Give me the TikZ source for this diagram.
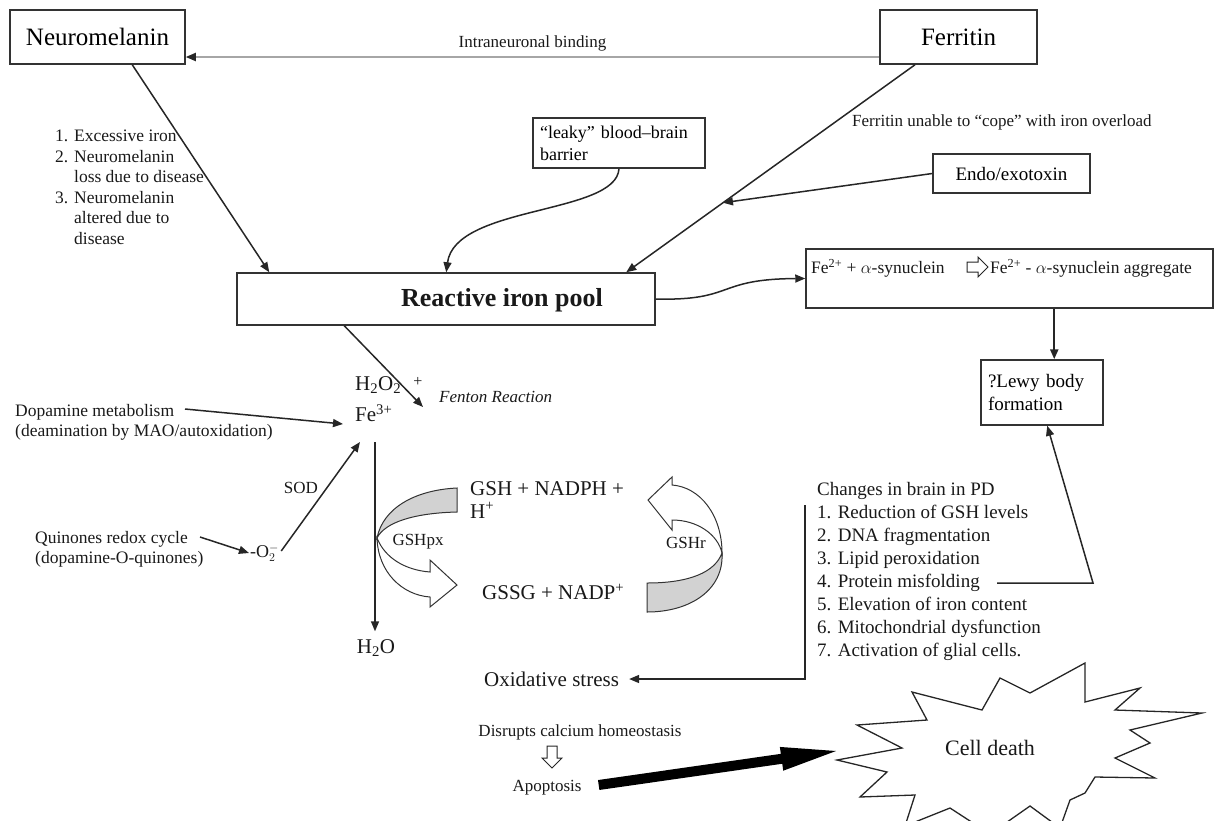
\documentclass[tikz,border=0pt]{standalone}
\usepackage{fontspec}
\setmainfont{Liberation Serif}
\usetikzlibrary{arrows.meta,calc}
\newcommand\fsz[2]{\fontsize{#1}{#2}\selectfont}
\begin{document}
\begin{tikzpicture}[x=1pt,y=-1pt,
 box/.style={draw=black!80, line width=1.5pt, inner sep=0pt},
 conn/.style={draw=black!85, line width=1.5pt, -{Triangle[length=10pt,width=8pt]}},
 txt/.style={inner sep=1pt, text=black!90},
 hollowp/.style={draw=black!85, line width=1pt, fill=white, line join=miter},
 band/.style={draw=black!80, line width=1pt}
]
\useasboundingbox (0,0) rectangle (1217,820);

% top boxes
\node[box,minimum width=175pt,minimum height=54pt,font=\fsz{25}{30}] (neuro) at (97.5,37) {Neuromelanin};
\node[box,minimum width=157pt,minimum height=54pt,font=\fsz{25}{30}] (ferr) at (958.5,37) {Ferritin};
\draw[draw=gray!70,line width=1.8pt,-{Triangle[length=10pt,width=8pt,color=black!85]}] ($(ferr.west)+(0,20)$) -- ($(neuro.east)+(0,20)$)
  node[midway,above=4pt,txt,font=\fsz{17}{20}] (intra) {Intraneuronal binding};

% reactive iron pool
\node[box,minimum width=418pt,minimum height=52pt] (pool) at (446,299) {};
\node[txt,font=\fsz{26}{30}\bfseries] (pooltxt) at (502,300) {Reactive iron pool};

% leaky bbb
\node[box,minimum width=172pt,minimum height=50pt,text width=158pt,align=left,font=\fsz{18}{22}] (leaky) at (619,143) {“leaky” blood–brain\\barrier};

% endo
\node[box,minimum width=157pt,minimum height=39pt,font=\fsz{19}{22}] (endo) at (1011.5,173.5) {Endo/exotoxin};

% causes list
\node[txt,anchor=north west,align=left,font=\fsz{17.5}{20.5}] (causes) at (54,129) {1. Excessive iron\\2. Neuromelanin\\\phantom{2. }loss due to disease\\3. Neuromelanin\\\phantom{3. }altered due to\\\phantom{3. }disease};

\node[txt,anchor=west,font=\fsz{17}{20}] (ferlab) at (851,122) {Ferritin unable to “cope” with iron overload};

% arrows into pool
\draw[conn] ($(neuro.south west)+(123,0)$) -- ($(pool.north west)+(33,0)$);
\draw[conn] (leaky.south) .. controls (616,215) and (455,205) .. ($(pool.north west)+(210,0)$);
\coordinate (fs) at ($(ferr.south)+(-43.5,0)$);
\coordinate (pe) at ($(pool.north west)+(390,0)$);
\draw[conn] (fs) -- (pe);
\draw[conn] (endo.west) -- ($(fs)!0.665!(pe)$);

% Fe2+ box
\node[box,minimum width=407pt,minimum height=59pt] (febox) at (1009.5,278.5) {};
\node[txt,anchor=west,font=\fsz{17.5}{20}] (fe1) at (810,268) {Fe\textsuperscript{2+} + $\alpha$-synuclein};
\draw[hollowp,shift={(967,267)}] (0,-5) -- (11,-5) -- (11,-10) -- (21,0) -- (11,10) -- (11,5) -- (0,5) -- cycle;
\node[txt,anchor=west,font=\fsz{17.5}{20}] (fe2) at (989,268) {Fe\textsuperscript{2+} - $\alpha$-synuclein aggregate};
\draw[conn] (pool.east) .. controls (735,301) and (715,279) .. (febox.west);

% Lewy
\node[box,minimum width=122pt,minimum height=65pt,text width=108pt,align=left,font=\fsz{19}{23}] (lewy) at (1042,392.5) {?Lewy body\\formation};
\draw[conn,line width=2.2pt] ($(febox.south west)+(249,0)$) -- ($(lewy.north west)+(74,0)$);

% Fenton
\node[txt,anchor=west,font=\fsz{21}{24}] (h2o2) at (354,385) {H\textsubscript{2}O\textsubscript{2}};
\node[txt,font=\fsz{16}{18}] (plus) at (418,382) {+};
\node[txt,anchor=west,font=\fsz{21}{24}] (fe3) at (354,413) {Fe\textsuperscript{3+}};
\node[txt,anchor=west,font=\fsz{17}{20}\itshape] (fenton) at (438,397) {Fenton Reaction};
\draw[conn] ($(pool.south west)+(108,0)$) -- ($(fenton.west)+(-15,10)$);

% dopamine
\node[txt,anchor=north west,align=left,font=\fsz{17.5}{20}] (dop) at (14,403) {Dopamine metabolism\\(deamination by MAO/autoxidation)};
\draw[conn] ($(dop.north west)+(171,6)$) -- ($(fe3.west)+(-11,11)$);

% quinones
\node[txt,anchor=west,font=\fsz{18}{20}] (o2) at (249,553) {-O$_2^{-}$};
\node[txt,anchor=north west,align=left,font=\fsz{17.5}{20}] (quin) at (34,530) {Quinones redox cycle\\(dopamine-O-quinones)};
\draw[conn] ($(quin.north west)+(166,7)$) -- (o2.west);
\draw[conn] ($(o2.east)+(1,-2)$) -- ($(fe3.west)+(6,29)$);
\node[txt,font=\fsz{17}{20}] (sod) at (301,488) {SOD};

% H2O
\node[txt,font=\fsz{21}{24}] (h2o) at (376,648) {H\textsubscript{2}O};
\draw[conn] ($(fe3.west)+(21,29)$) -- ($(h2o.north)+(-1,-7)$);

% left ribbon (GSHpx)
\filldraw[band,fill=gray!35] (457,488) .. controls (415,490) and (383,508) .. (377,538) .. controls (385,522) and (415,513) .. (457,512) -- cycle;
\filldraw[band,fill=white] (377,538) .. controls (378,572) and (402,595) .. (430,597) -- (430,607) -- (457,585) -- (430,560) -- (430,572) .. controls (405,570) and (385,558) .. (377,538) -- cycle;

% right ribbon (GSHr)
\filldraw[band,fill=white] (722,553) .. controls (722,515) and (700,487) .. (672,485) -- (672,477) -- (648,500) -- (672,530) -- (672,520) .. controls (698,520) and (718,535) .. (722,553) -- cycle;
\filldraw[band,fill=gray!35] (722,553) .. controls (715,572) and (690,583) .. (647,583) -- (647,612) .. controls (690,612) and (724,590) .. (722,553) -- cycle;

\node[txt,anchor=north west,align=left,font=\fsz{21}{23}] (gsh) at (469,480) {GSH + NADPH +\\H\textsuperscript{+}};
\node[txt,anchor=west,font=\fsz{21}{24}] (gssg) at (481,592) {GSSG + NADP\textsuperscript{+}};
\node[txt,font=\fsz{17}{20}] (gpx) at (418,542) {GSHpx};
\node[txt,font=\fsz{17}{20}] (gr) at (686,543) {GSHr};

% changes list
\node[txt,anchor=north west,align=left,font=\fsz{19}{23}] (chg) at (816,481) {Changes in brain in PD\\1. Reduction of GSH levels\\2. DNA fragmentation\\3. Lipid peroxidation\\4. Protein misfolding\\5. Elevation of iron content\\6. Mitochondrial dysfunction\\7. Activation of glial cells.};
\coordinate (pm) at (997,583);
\coordinate (pk) at (1093,583);
\draw[conn] (pm) -- (pk) -- ($(lewy.south west)+(67,0)$);

% oxidative stress
\node[txt,anchor=west,font=\fsz{21}{24}] (ox) at (483,679) {Oxidative stress};
\coordinate (vt) at (805,505);
\draw[conn] (vt) -- (vt |- ox.east) -- ([xshift=9pt]ox.east);

% bottom
\node[txt,font=\fsz{17}{20}] (disr) at (580,732) {Disrupts calcium homeostasis};
\draw[hollowp,shift={(552,746)}] (-5,0) -- (5,0) -- (5,12) -- (10,12) -- (0,22) -- (-10,12) -- (-5,12) -- cycle;
\node[txt,font=\fsz{17}{20}] (apo) at (547,788) {Apoptosis};

% cell death star
\draw[line width=1.3pt,draw=black!85,fill=white] (1085,663) -- (1030,693) -- (1000,678) -- (982,710) -- (912,692) -- (927,720) -- (857,725) -- (902,748) -- (837,760) -- (887,772) -- (860,797) -- (915,795) -- (905,826) -- (950,808) -- (990,834) -- (1030,806) -- (1060,828) -- (1070,800) -- (1085,793) -- (1095,777) -- (1155,778) -- (1115,758) -- (1150,743) -- (1130,730) -- (1202,713) -- (1115,710) -- (1140,688) -- (1085,702) -- cycle;
\node[txt,font=\fsz{22}{26}] (cd) at (990,748) {Cell death};

% big black arrow
\coordinate (bt) at ($(apo.east)+(16,-3)$);
\coordinate (btip) at (836,751);
\coordinate (bc) at ($(btip)!55pt!(bt)$);
\fill[black] ($(bt)!5pt!90:(btip)$) -- ($(bc)!5pt!-90:(bt)$) -- ($(bc)!12pt!-90:(bt)$) -- (btip) -- ($(bc)!12pt!90:(bt)$) -- ($(bc)!5pt!90:(bt)$) -- ($(bt)!5pt!-90:(btip)$) -- cycle;
\end{tikzpicture}
\end{document}
